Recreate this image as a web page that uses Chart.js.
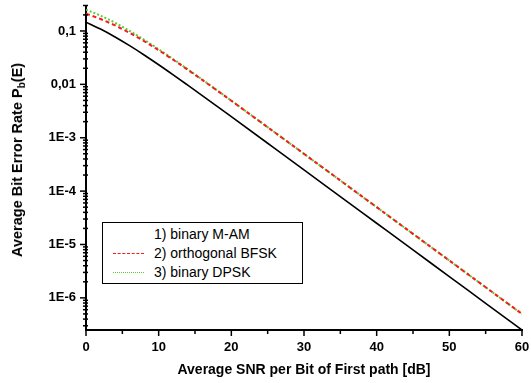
<!DOCTYPE html>
<html>
<head>
<meta charset="utf-8">
<script src="https://cdn.jsdelivr.net/npm/chart.js@4/dist/chart.umd.min.js"></script>
<style>
  html, body { margin: 0; padding: 0; background: #fff; }
  #wrap { position: relative; width: 531px; height: 383px; overflow: hidden; font-family: "Liberation Sans", Arial, sans-serif; }
  canvas { position: absolute; left: 0; top: 0; }
  #ytitle { position: absolute; left: 18px; top: 160px; transform: translate(-50%, -50%) rotate(-90deg); white-space: nowrap; font-weight: bold; font-size: 14.5px; color: #000; }
  #ytitle sub { font-size: 10px; vertical-align: -3px; }
  #xtitle { position: absolute; left: 304px; top: 369px; transform: translate(-50%, -50%); white-space: nowrap; font-weight: bold; font-size: 14px; color: #000; }
  #legend { position: absolute; left: 102px; top: 222px; width: 199px; height: 60px; border: 1.5px solid #000; background: #fff; }
  .lrow { position: absolute; left: 0; height: 19px; width: 100%; font-size: 14px; color: #000; }
  .lrow span { position: absolute; left: 51px; top: 0; line-height: 19px; }
  .lrow i { position: absolute; left: 10px; top: 9px; width: 31px; height: 0; }
</style>
</head>
<body>
<div id="wrap">
  <canvas id="c" width="531" height="383"></canvas>
  <div id="ytitle">Average Bit Error Rate P<sub>b</sub>(E)</div>
  <div id="xtitle">Average SNR per Bit of First path [dB]</div>
  <div id="legend"></div>
</div>
<script>
// ---- data ----
const snrDb = [0, 2, 4, 6, 8, 10, 12, 14, 16, 18, 20, 25, 30, 35, 40, 45, 50, 55, 60];
const binaryMAM = [0.1464, 0.1085, 0.0771, 0.0530, 0.0355, 0.0233, 0.01507, 0.00966, 0.00617, 0.00392, 0.00248,
  7.88e-4, 2.50e-4, 7.90e-5, 2.50e-5, 7.91e-6, 2.50e-6, 7.91e-7, 2.50e-7];
const orthogonalBFSK = [0.2113, 0.1675, 0.1269, 0.0921, 0.0643, 0.0436, 0.02884, 0.01879, 0.01210, 0.00774, 0.00493,
  1.57e-3, 4.99e-4, 1.58e-4, 5.00e-5, 1.58e-5, 5.00e-6, 1.58e-6, 5.00e-7];
const binaryDPSK = [0.2500, 0.1934, 0.1424, 0.1004, 0.0684, 0.0455, 0.02967, 0.01914, 0.01225, 0.00780, 0.00495,
  1.576e-3, 4.995e-4, 1.58e-4, 5.00e-5, 1.58e-5, 5.00e-6, 1.58e-6, 5.00e-7];
const seriesLabels = ['1) binary M-AM', '2) orthogonal BFSK', '3) binary DPSK'];
const xTickValues = [0, 5, 10, 15, 20, 25, 30, 35, 40, 45, 50, 55, 60];
const xTickLabels = ['0', '', '10', '', '20', '', '30', '', '40', '', '50', '', '60'];
const yTickValues = [1e-1, 1e-2, 1e-3, 1e-4, 1e-5, 1e-6];
const yTickLabels = ['0,1', '0,01', '1E-3', '1E-4', '1E-5', '1E-6'];

const pts = arr => snrDb.map((x, i) => ({ x: x, y: arr[i] }));
const noOverflow = s => { s.paddingLeft = 0; s.paddingRight = 0; s.paddingTop = 0; s.paddingBottom = 0; };

const tickMarks = {
  id: 'tickMarks',
  afterDraw(chart) {
    const { ctx, scales: { x, y } } = chart;
    ctx.save();
    ctx.strokeStyle = '#000';
    ctx.lineWidth = 1.5;
    x.ticks.forEach(t => {
      const px = x.getPixelForValue(t.value);
      const major = t.value % 10 === 0;
      ctx.beginPath();
      ctx.moveTo(px, x.top);
      ctx.lineTo(px, x.top + (major ? 6 : 4));
      ctx.stroke();
    });
    y.ticks.forEach(t => {
      const py = y.getPixelForValue(t.value);
      const l = Math.log10(t.value);
      const major = Math.abs(l - Math.round(l)) < 1e-6;
      ctx.beginPath();
      ctx.moveTo(y.right + (major ? 0 : 2), py);
      ctx.lineTo(y.right - (major ? 6 : 3), py);
      ctx.stroke();
    });
    ctx.restore();
  }
};

const chart = new Chart(document.getElementById('c'), {
  type: 'line',
  data: {
    datasets: [
      { label: seriesLabels[2], data: pts(binaryDPSK), borderColor: '#5ccb35', borderWidth: 2, borderDash: [2, 2], order: 3 },
      { label: seriesLabels[1], data: pts(orthogonalBFSK), borderColor: '#f51c1c', borderWidth: 2, borderDash: [4, 3], order: 2 },
      { label: seriesLabels[0], data: pts(binaryMAM), borderColor: '#000000', borderWidth: 1.6, order: 1 }
    ]
  },
  options: {
    responsive: false,
    animation: false,
    devicePixelRatio: 1,
    layout: { padding: { top: 5.5, right: 9, left: 0, bottom: 0 } },
    elements: { point: { radius: 0 }, line: { tension: 0.3, cubicInterpolationMode: 'monotone', fill: false } },
    plugins: { legend: { display: false }, tooltip: { enabled: false } },
    scales: {
      x: {
        type: 'linear', min: 0, max: 60,
        afterFit: s => { s.height = 53; noOverflow(s); },
        afterBuildTicks: s => { s.ticks = xTickValues.map(v => ({ value: v })); },
        grid: { display: false, drawTicks: false },
        border: { display: true, color: '#000', width: 2 },
        ticks: {
          autoSkip: false, maxRotation: 0, padding: 10, color: '#000',
          font: { family: '"Liberation Sans", Arial, sans-serif', size: 13, weight: 'bold' },
          callback: (v) => { const i = xTickValues.indexOf(v); return i >= 0 ? xTickLabels[i] : ''; }
        }
      },
      y: {
        type: 'logarithmic', min: 2.5e-7, max: 0.3,
        afterFit: s => { s.width = 86; noOverflow(s); },
        afterBuildTicks: s => {
          const t = [];
          for (let e = -7; e <= 0; e++) {
            for (let m = 1; m <= 9; m++) {
              const v = m * Math.pow(10, e);
              if (v >= s.min * 0.999 && v <= s.max * 1.001) t.push({ value: v });
            }
          }
          s.ticks = t;
        },
        grid: { display: false, drawTicks: false },
        border: { display: true, color: '#000', width: 2 },
        ticks: {
          autoSkip: false, padding: 10, color: '#000',
          font: { family: '"Liberation Sans", Arial, sans-serif', size: 13, weight: 'bold' },
          callback: (v) => {
            const i = yTickValues.findIndex(tv => Math.abs(tv - v) / tv < 1e-6);
            return i >= 0 ? yTickLabels[i] : '';
          }
        }
      }
    }
  },
  plugins: [tickMarks]
});

// HTML legend built from the dataset styles
const legend = document.getElementById('legend');
[chart.data.datasets[2], chart.data.datasets[1], chart.data.datasets[0]].forEach((ds, i) => {
  const row = document.createElement('div');
  row.className = 'lrow';
  row.style.top = (2 + i * 19) + 'px';
  const sample = document.createElement('i');
  if (i > 0) sample.style.borderTop = '1px ' + (ds.borderDash && ds.borderDash[0] > 2 ? 'dashed ' : 'dotted ') + ds.borderColor;
  const txt = document.createElement('span');
  txt.textContent = ds.label;
  row.appendChild(sample);
  row.appendChild(txt);
  legend.appendChild(row);
});
</script>
</body>
</html>
